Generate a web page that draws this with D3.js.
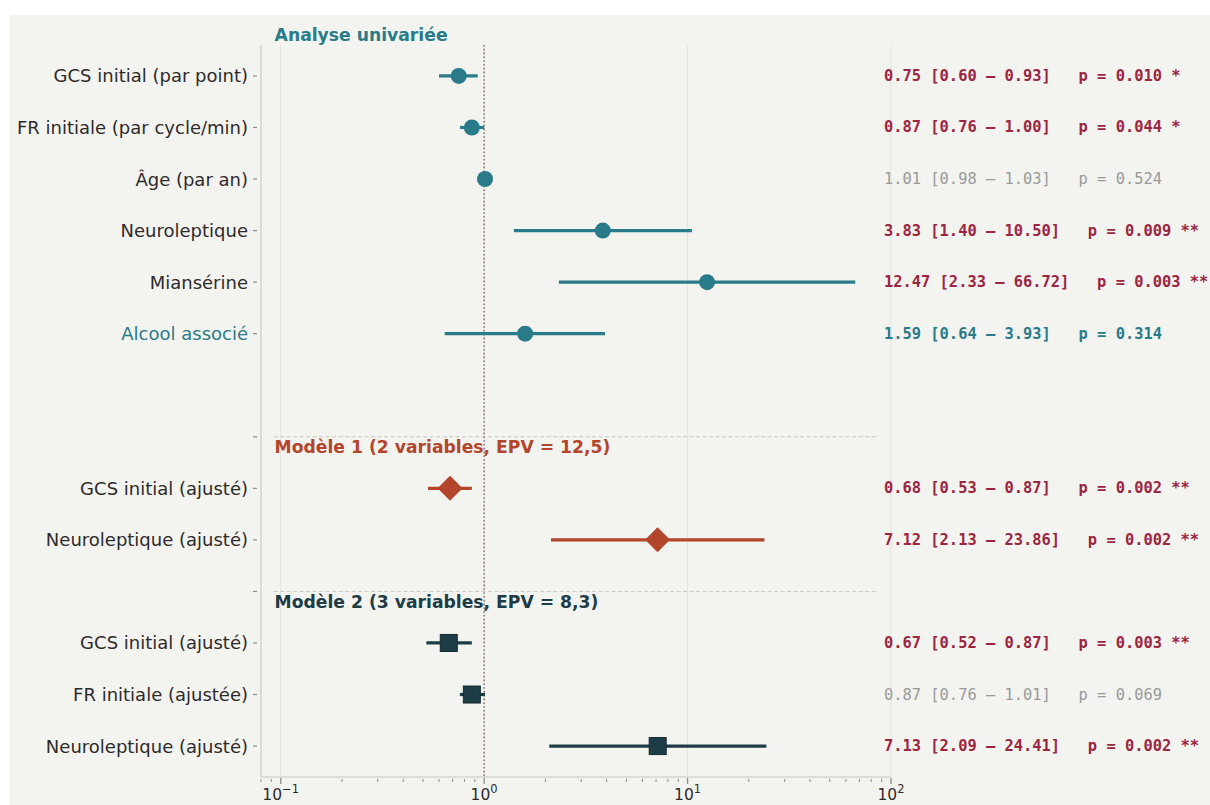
<!DOCTYPE html>
<html lang="fr">
<head>
<meta charset="utf-8">
<script src="https://cdn.jsdelivr.net/npm/d3@7"></script>
<style>
  html, body { margin: 0; padding: 0; background: #ffffff; }
  svg { display: block; }
  text { white-space: pre; }
</style>
</head>
<body>
<svg id="chart" width="1210" height="805"></svg>
<script>
// Odds ratios with 95% confidence intervals, univariate analysis then two multivariable models
const labels = [
  "GCS initial (par point)",
  "FR initiale (par cycle/min)",
  "Âge (par an)",
  "Neuroleptique",
  "Miansérine",
  "Alcool associé",
  "GCS initial (ajusté)",
  "Neuroleptique (ajusté)",
  "GCS initial (ajusté)",
  "FR initiale (ajustée)",
  "Neuroleptique (ajusté)"
];
const groups = ["uni", "uni", "uni", "uni", "uni", "uni", "m1", "m1", "m2", "m2", "m2"];
const rowIndex = [0, 1, 2, 3, 4, 5, 8, 9, 11, 12, 13];
const oddsRatios = [0.75, 0.87, 1.01, 3.83, 12.47, 1.59, 0.68, 7.12, 0.67, 0.87, 7.13];
const ciLower = [0.60, 0.76, 0.98, 1.40, 2.33, 0.64, 0.53, 2.13, 0.52, 0.76, 2.09];
const ciUpper = [0.93, 1.00, 1.03, 10.50, 66.72, 3.93, 0.87, 23.86, 0.87, 1.01, 24.41];
const pValues = ["0.010", "0.044", "0.524", "0.009", "0.003", "0.314", "0.002", "0.002", "0.003", "0.069", "0.002"];
const highlighted = ["Alcool associé"];

// Section headings and the row positions of their separators
const sectionTitles = ["Analyse univariée", "Modèle 1 (2 variables, EPV = 12,5)", "Modèle 2 (3 variables, EPV = 8,3)"];
const sectionKeys = ["uni", "m1", "m2"];
const sectionSeparators = [-1, 7, 10];

const xTicks = [0.1, 1, 10, 100];
const xTickExponents = ["−1", "0", "1", "2"];

const palette = {
  uni: "#2a7b8a",
  m1: "#b3452b",
  m2: "#1e3c46",
  signif: "#9c2541",
  neutral: "#9a9a9a",
  label: "#2e2b2b",
  spine: "#c9c9c4"
};

const svg = d3.select("#chart");

// figure background panel
svg.append("rect")
  .attr("x", 10).attr("y", 15)
  .attr("width", 1200).attr("height", 790)
  .attr("fill", "#f3f3ef");

const x = d3.scaleLog().domain([0.08, 100]).range([261, 891]);
const y = d3.scaleLinear().domain([-0.6, 13.6]).range([45, 777]);
const [x0, x1] = x.range();
const [y0, y1] = y.range();

// vertical gridlines at the decades
svg.append("g")
  .selectAll("line")
  .data(xTicks)
  .join("line")
  .attr("x1", d => x(d)).attr("x2", d => x(d))
  .attr("y1", y0).attr("y2", y1)
  .attr("stroke", "#e4e4df")
  .attr("stroke-width", 1);

// dashed separators between the models
const sepX0 = x0 + 0.02 * (x1 - x0);
const sepX1 = x0 + 0.98 * (x1 - x0);
svg.append("g")
  .selectAll("line")
  .data(sectionSeparators.filter(s => s > 0))
  .join("line")
  .attr("x1", sepX0).attr("x2", sepX1)
  .attr("y1", d => y(d)).attr("y2", d => y(d))
  .attr("stroke", "#c8c8c4")
  .attr("stroke-width", 1)
  .attr("stroke-dasharray", "4,2.5");

// reference line at OR = 1
svg.append("line")
  .attr("x1", x(1)).attr("x2", x(1))
  .attr("y1", y0).attr("y2", y1)
  .attr("stroke", "#8e7a7e")
  .attr("stroke-width", 1.6)
  .attr("stroke-dasharray", "1.6,2.2");

// left spine with its ticks and labels
const yAxisG = svg.append("g");
yAxisG.append("line")
  .attr("x1", x0).attr("x2", x0).attr("y1", y0).attr("y2", y1)
  .attr("stroke", palette.spine).attr("stroke-width", 1.2);
const yTickRows = rowIndex.concat(sectionSeparators.filter(s => s > 0));
yAxisG.selectAll("line.tick")
  .data(yTickRows)
  .join("line")
  .attr("class", "tick")
  .attr("x1", x0 - 8).attr("x2", x0 - 4)
  .attr("y1", d => y(d)).attr("y2", d => y(d))
  .attr("stroke", "#8d8d8d").attr("stroke-width", 1.2);
yAxisG.selectAll("text")
  .data(labels)
  .join("text")
  .attr("x", x0 - 13)
  .attr("y", (d, i) => y(rowIndex[i]))
  .attr("text-anchor", "end")
  .attr("dominant-baseline", "central")
  .attr("font-family", "DejaVu Sans")
  .attr("font-size", 18)
  .attr("fill", d => highlighted.includes(d) ? palette.uni : palette.label)
  .text(d => d);

// bottom spine with log ticks
const xAxisG = svg.append("g");
xAxisG.append("line")
  .attr("x1", x0).attr("x2", x1).attr("y1", y1).attr("y2", y1)
  .attr("stroke", palette.spine).attr("stroke-width", 1.2);
const minorTicks = x.ticks().filter(t => !xTicks.includes(t) && t >= x.domain()[0]);
xAxisG.selectAll("line.minor")
  .data(minorTicks)
  .join("line")
  .attr("class", "minor")
  .attr("x1", d => x(d)).attr("x2", d => x(d))
  .attr("y1", y1 + 2).attr("y2", y1 + 5)
  .attr("stroke", "#8d8d8d").attr("stroke-width", 1);
xAxisG.selectAll("line.major")
  .data(xTicks)
  .join("line")
  .attr("class", "major")
  .attr("x1", d => x(d)).attr("x2", d => x(d))
  .attr("y1", y1 + 1).attr("y2", y1 + 7)
  .attr("stroke", "#8d8d8d").attr("stroke-width", 1.3);
const xLabels = xAxisG.selectAll("text")
  .data(xTicks)
  .join("text")
  .attr("x", d => x(d))
  .attr("y", y1 + 23)
  .attr("text-anchor", "middle")
  .attr("font-family", "DejaVu Sans")
  .attr("font-size", 15.5)
  .attr("fill", palette.label);
xLabels.append("tspan").text("10");
xLabels.append("tspan")
  .attr("dy", -7)
  .attr("font-size", 11.5)
  .text((d, i) => xTickExponents[i]);

// section headings
svg.append("g")
  .selectAll("text")
  .data(sectionTitles)
  .join("text")
  .attr("x", sepX0 + 1)
  .attr("y", (d, i) => y(sectionSeparators[i] + 0.2))
  .attr("dominant-baseline", "central")
  .attr("font-family", "DejaVu Sans")
  .attr("font-weight", "bold")
  .attr("font-size", 17.2)
  .attr("fill", (d, i) => palette[sectionKeys[i]])
  .text(d => d);

// confidence intervals
const rows = labels.map((label, i) => ({
  label, group: groups[i], row: rowIndex[i],
  or: oddsRatios[i], lo: ciLower[i], hi: ciUpper[i], p: pValues[i]
}));

svg.append("g")
  .selectAll("line")
  .data(rows)
  .join("line")
  .attr("x1", d => x(d.lo)).attr("x2", d => x(d.hi))
  .attr("y1", d => y(d.row)).attr("y2", d => y(d.row))
  .attr("stroke", d => palette[d.group])
  .attr("stroke-width", 3.2);

// point estimates: circles, diamonds, squares by section
const markers = svg.append("g");
markers.selectAll("circle")
  .data(rows.filter(d => d.group === "uni"))
  .join("circle")
  .attr("cx", d => x(d.or)).attr("cy", d => y(d.row))
  .attr("r", 8)
  .attr("fill", palette.uni);
markers.selectAll("path.diamond")
  .data(rows.filter(d => d.group === "m1"))
  .join("path")
  .attr("class", "diamond")
  .attr("d", d => {
    const cx = x(d.or), cy = y(d.row), h = 12.5;
    return `M${cx},${cy - h}L${cx + h},${cy}L${cx},${cy + h}L${cx - h},${cy}Z`;
  })
  .attr("fill", palette.m1);
markers.selectAll("rect")
  .data(rows.filter(d => d.group === "m2"))
  .join("rect")
  .attr("x", d => x(d.or) - 8.5).attr("y", d => y(d.row) - 8.5)
  .attr("width", 17).attr("height", 17)
  .attr("fill", palette.m2)
  .attr("stroke", "#132a31").attr("stroke-width", 1);

// OR [CI] and p-value annotations on the right
const stars = p => (+p < 0.01 ? " **" : +p < 0.05 ? " *" : "");
const fmt = v => v.toFixed(2);
svg.append("g")
  .selectAll("text")
  .data(rows)
  .join("text")
  .attr("x", x1 - 7)
  .attr("y", d => y(d.row))
  .attr("dominant-baseline", "central")
  .attr("font-family", "DejaVu Sans Mono")
  .attr("font-size", 15.4)
  .attr("font-weight", d => (+d.p < 0.05 || highlighted.includes(d.label)) ? "bold" : "normal")
  .attr("fill", d => +d.p < 0.05 ? palette.signif : highlighted.includes(d.label) ? palette.uni : palette.neutral)
  .text(d => `${fmt(d.or)} [${fmt(d.lo)} – ${fmt(d.hi)}]   p = ${d.p}${stars(d.p)}`);
</script>
</body>
</html>
